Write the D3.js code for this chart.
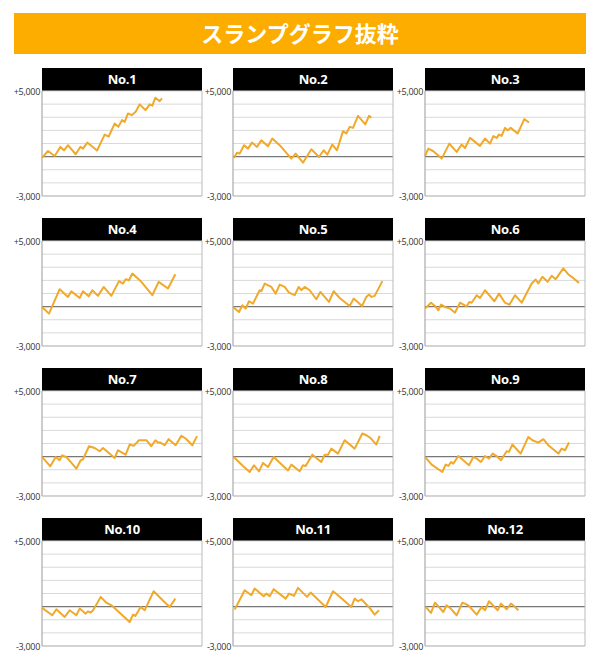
<!DOCTYPE html>
<html><head><meta charset="utf-8">
<script src="https://cdn.jsdelivr.net/npm/d3@7"></script>
<style>body{margin:0;background:#fff;}svg{display:block;}</style>
</head><body>
<svg id="chart" width="600" height="660"></svg>
<script>
const title = "スランプグラフ抜粋";
const panelNames = ["No.1","No.2","No.3","No.4","No.5","No.6","No.7","No.8","No.9","No.10","No.11","No.12"];
const yTicks = [5000,4000,3000,2000,1000,0,-1000,-2000,-3000];
const yTickLabels = {"5000":"+5,000","-3000":"-3,000"};

// games played (x) and difference in coins (y)
const games1 = [0,360,760,1100,1320,1560,2020,2300,2460,2720,3300,3760,4000,4360,4580,4800,4960,5160,5380,5620,5860,6220,6460,6620,6800,7060,7200];
const diff1  = [-100,430,50,740,480,870,180,740,610,1070,460,1680,1530,2520,2270,2780,2650,3290,3160,3420,3980,3540,3980,3880,4490,4230,4440];
const games2 = [40,240,400,660,900,1140,1440,1700,2100,2360,2800,3500,3760,4200,4700,5160,5440,5660,5960,6240,6600,6800,7000,7200,7500,7940,8160,8300];
const diff2  = [-100,300,230,870,610,1070,740,1250,790,1380,870,-150,230,-460,560,-25,485,150,920,485,1940,1760,2270,2190,3110,2450,3110,2960];
const games3 = [0,200,500,1000,1460,1900,2200,2400,2700,3300,3600,3900,4100,4300,4440,4600,4800,4960,5140,5560,5960,6240];
const diff3  = [50,610,410,-150,990,360,920,660,1430,820,1380,990,1560,1430,1680,1580,2190,2010,2190,1760,2860,2600];
const games4 = [0,420,1060,1560,1760,2260,2460,2800,3020,3360,3700,4160,4620,4860,5020,5220,5420,5960,6620,7000,7560,8000];
const diff4  = [-25,-535,1330,740,1170,660,1170,790,1250,820,1500,820,1940,1760,2090,2010,2520,1890,870,1890,1380,2470];
const games5 = [0,360,560,760,960,1200,1600,1700,1900,2300,2560,2800,3100,3360,3700,3940,4100,4300,4600,5000,5240,5760,6040,6400,7000,7240,7740,8000,8160,8300,8500,8960];
const diff5  = [-25,-410,100,-150,410,230,1250,1170,1760,1500,990,1680,1500,1070,870,1500,1250,1500,1250,560,1120,360,1170,660,50,610,50,740,920,740,820,1940];
const games6 = [0,360,600,800,960,1200,1500,1800,2100,2500,2660,2800,3100,3300,3600,4160,4440,4800,5060,5400,5800,6400,6640,6800,7040,7360,7600,7840,8300,8600,8800,9240];
const diff6  = [-150,300,50,-280,150,-25,-150,-460,300,25,360,300,870,660,1250,410,990,300,150,870,300,1760,2070,1760,2270,1890,2350,2090,2910,2450,2270,1810];
const games7 = [0,500,820,1060,1200,1460,2060,2320,2460,2820,3160,3460,3660,4360,4560,5020,5260,5500,5820,6260,6560,6800,6960,7100,7360,7600,8020,8360,8620,9020,9300];
const diff7  = [-25,-740,-25,-280,100,-25,-920,-280,-200,790,660,410,660,-100,485,150,920,820,1250,1250,790,1250,1070,1070,870,1330,870,1580,1380,870,1560];
const games8 = [40,600,1000,1260,1560,1800,2100,2440,3300,3500,4000,4200,4360,4760,5000,5300,5500,5700,5900,6300,6700,7300,7760,8000,8240,8600,8800];
const diff8  = [-25,-710,-1170,-660,-1120,-480,-790,-25,-1050,-610,-1120,-660,-710,150,-100,-410,150,150,610,230,1250,610,1760,1630,1430,920,1580];
const games9 = [0,400,1040,1240,1400,1560,1700,2000,2640,2900,3100,3360,3600,3840,4060,4360,4560,4900,5040,5240,5740,6200,6440,6800,7100,7400,8000,8200,8400,8640];
const diff9  = [-25,-610,-1170,-610,-710,-410,-535,50,-660,-25,-150,-410,50,-150,230,-25,-280,410,360,920,230,1500,1250,1070,1330,870,230,610,485,1070];
const games10 = [0,620,860,1360,1660,2060,2260,2620,2760,2920,3060,3300,3520,3860,4220,5260,5460,5600,5920,6160,6300,6700,7300,7660,8000];
const diff10  = [-100,-660,-200,-790,-280,-660,-150,-535,-360,-460,-280,230,740,300,50,-1170,-610,-710,-25,-280,100,1170,410,-25,610];
const games11 = [100,700,1100,1300,1840,2000,2200,2440,3160,3360,3660,3900,4440,4660,5560,6000,6300,7100,7300,7500,7700,8200,8500,8760];
const diff11  = [-230,1250,870,1380,790,990,790,1330,610,990,820,1430,740,1070,-25,1170,870,-25,610,410,560,-100,-610,-280];
const games12 = [40,360,600,1100,1300,1500,1900,2240,2400,2640,3100,3400,3600,3840,4360,4560,4900,5160,5400,5600];
const diff12  = [-25,-480,300,-410,100,-100,-660,300,230,50,-610,-25,-280,410,-280,230,-200,230,-25,-280];

const gamesList = [games1,games2,games3,games4,games5,games6,games7,games8,games9,games10,games11,games12];
const diffList = [diff1,diff2,diff3,diff4,diff5,diff6,diff7,diff8,diff9,diff10,diff11,diff12];

const svg = d3.select("#chart");

// title banner
svg.append("rect").attr("x",14).attr("y",13).attr("width",572).attr("height",41).attr("fill","#FDAD00");
svg.append("text").attr("x",300).attr("y",42).attr("text-anchor","middle")
  .attr("fill","#fff").attr("font-family","'Noto Sans CJK JP'").attr("font-weight","bold")
  .attr("font-size",22).text(title);

const colX = [42,233,425];
const rowY = [68,218,368,518];
const pw = 160, hh = 23, ph = 105;

const x = d3.scaleLinear().domain([0,9600]).range([0,pw]);
const y = d3.scaleLinear().domain([-3000,5000]).range([ph,0]);
const line = d3.line().x(d=>x(d[0])).y(d=>y(d[1]));

panelNames.forEach((name,i)=>{
  const px = colX[i%3], py = rowY[Math.floor(i/3)];
  const g = svg.append("g").attr("transform",`translate(${px},${py})`);
  // header
  g.append("rect").attr("x",0).attr("y",0).attr("width",pw).attr("height",hh).attr("fill","#000");
  g.append("text").attr("x",pw/2).attr("y",16).attr("text-anchor","middle").attr("fill","#fff")
    .attr("font-family","'Open Sans'").attr("font-weight","bold").attr("font-size",13)
    .attr("letter-spacing",-0.3).text(name);
  const p = g.append("g").attr("transform",`translate(0,${hh})`);
  // gridlines
  p.selectAll("line.grid").data(yTicks).enter().append("line")
    .attr("x1",0).attr("x2",pw).attr("y1",d=>y(d)).attr("y2",d=>y(d))
    .attr("stroke",d=>d===0?"#777":"#d9d9d9").attr("stroke-width",d=>d===0?1.2:1);
  // border
  p.append("line").attr("x1",0).attr("x2",0).attr("y1",0).attr("y2",ph).attr("stroke","#999");
  p.append("line").attr("x1",pw).attr("x2",pw).attr("y1",0).attr("y2",ph).attr("stroke","#bbb");
  p.append("line").attr("x1",0).attr("x2",pw).attr("y1",ph).attr("y2",ph).attr("stroke","#bbb");
  // y labels
  p.selectAll("text.yl").data([5000,-3000]).enter().append("text")
    .attr("x",-2).attr("y",d=>y(d)+3.5).attr("text-anchor","end")
    .attr("font-family","'Open Sans'").attr("font-size",9).attr("fill","#333")
    .attr("letter-spacing",-0.3)
    .text(d=>yTickLabels[String(d)]);
  // line
  const pts = gamesList[i].map((gm,k)=>[gm,diffList[i][k]]);
  p.append("path").datum(pts).attr("d",line).attr("fill","none")
    .attr("stroke","#F0A92A").attr("stroke-width",2).attr("stroke-linejoin","round");
});
</script>
</body></html>
